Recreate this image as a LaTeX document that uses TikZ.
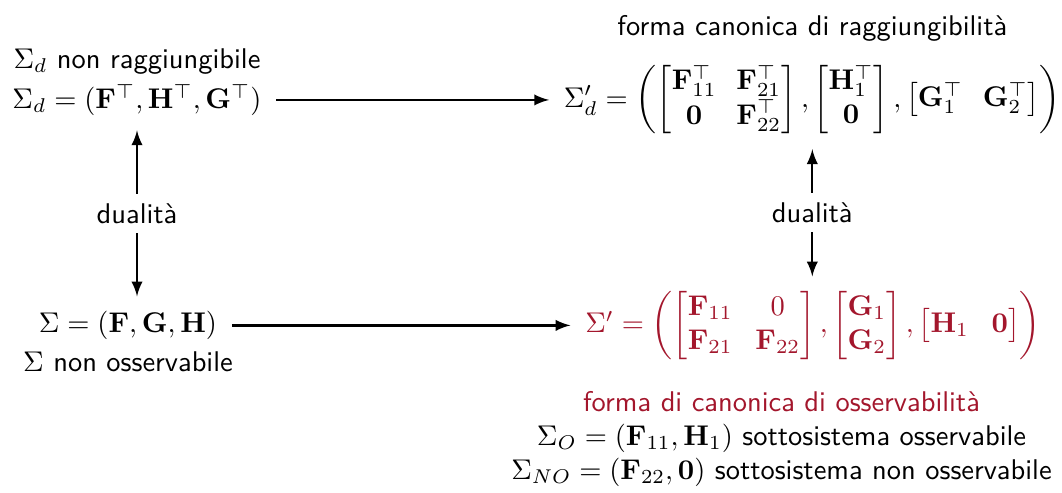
\documentclass[tikz,border=0pt]{standalone}
\usepackage{amsmath}
\usepackage{amssymb}
\usepackage{tikz}
\usetikzlibrary{arrows,arrows.meta,positioning,calc}
\renewcommand{\familydefault}{\sfdefault}
\definecolor{osred}{RGB}{163,22,44}
\newcommand{\bigclose}{\delimitershortfall=-8pt\right)}
\tikzset{
  sysnode/.style={inner sep=3pt, font=\normalsize},
  sysnote/.style={inner sep=2pt, align=center, font=\normalsize},
  sysmap/.style={->, >=latex, thick, shorten >=2pt, shorten <=2pt},
  dualmap/.style={<->, >=latex, thick, shorten >=2pt, shorten <=2pt}
}

\begin{document}
\begin{tikzpicture}[node distance=0.1cm]
  \useasboundingbox (0,0) rectangle (13.1,6.081);

  \node[sysnode] (sigd) at (1.69,4.848)
    {$\Sigma_d = (\mathbf{F}^\top, \mathbf{H}^\top, \mathbf{G}^\top)$};
  \node[sysnote, above=-2pt of sigd] (sigd_lbl) {$\Sigma_d$ non raggiungibile};
  \node[sysnode] (sigdp) at (10.02,4.848)
    {$\arraycolsep=3.5pt \Sigma'_d = \left(\begin{bmatrix}\mathbf{F}_{11}^\top & \mathbf{F}_{21}^\top\\ \mathbf{0} & \mathbf{F}_{22}^\top\end{bmatrix},
      \begin{bmatrix}\mathbf{H}_1^\top\\ \mathbf{0}\end{bmatrix},
      \begin{bmatrix}\mathbf{G}_1^\top & \mathbf{G}_2^\top\end{bmatrix}\bigclose$};
  \node[sysnote, above=3pt of sigdp] (sigdp_lbl) {forma canonica di raggiungibilità};

  \node[sysnode] (sig) at (1.579,2.067)
    {$\Sigma = (\mathbf{F}, \mathbf{G}, \mathbf{H})$};
  \node[sysnote, below=-1pt of sig] (sig_lbl) {$\Sigma$ non osservabile};
  \node[sysnode, text=osred] (sigp) at (10.03,2.067)
    {$\arraycolsep=4pt \Sigma' = \left(\begin{bmatrix}\mathbf{F}_{11} & 0\\ \mathbf{F}_{21} & \mathbf{F}_{22}\end{bmatrix},
      \begin{bmatrix}\mathbf{G}_1\\ \mathbf{G}_2\end{bmatrix},
      \begin{bmatrix}\mathbf{H}_1 & \mathbf{0}\end{bmatrix}\bigclose$};
  \node[sysnote, below=0.2cm of sigp, xshift=-0.39cm] (sigp_lbl)
    {\textcolor{osred}{forma di canonica di osservabilità}\\
     $\Sigma_O = (\mathbf{F}_{11}, \mathbf{H}_1)$ sottosistema osservabile\\
     $\Sigma_{NO} = (\mathbf{F}_{22}, \mathbf{0})$ sottosistema non osservabile};

  \draw[sysmap] (sigd) -- (sigdp);
  \draw[sysmap] (sig) -- (sigp);
  \draw[dualmap] (sigd.south) -- node[fill=white] {dualità} (sigd.south |- sig.north);
  \draw[dualmap] (sigp.north -| sigdp.south) -- node[fill=white] {dualità} (sigdp.south);
\end{tikzpicture}
\end{document}
